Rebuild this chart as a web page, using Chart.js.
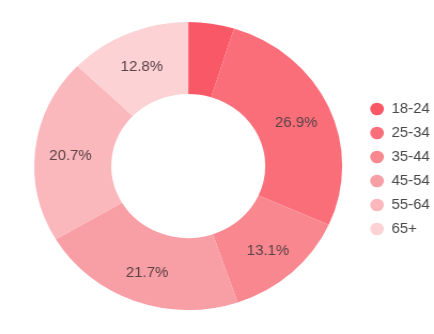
<!DOCTYPE html>
<html>
<head>
<meta charset="utf-8">
<script src="https://cdn.jsdelivr.net/npm/chart.js@4/dist/chart.umd.min.js"></script>
<style>
  html, body { margin: 0; padding: 0; background: #ffffff; }
  #frame { width: 434px; height: 334px; overflow: hidden; position: relative; }
  /* the chart is laid out slightly narrower and widened to fill the frame */
  #wrap { width: 406px; height: 334px; position: absolute; left: 0; top: 0;
          transform: scaleX(1.069); transform-origin: 0 0; }
</style>
</head>
<body>
<div id="frame"><div id="wrap"><canvas id="chart"></canvas></div></div>
<script>
// Age groups and their share of the audience (percent)
const ageGroups = ['18-24', '25-34', '35-44', '45-54', '55-64', '65+'];
const shares = [4.8, 26.9, 13.1, 21.7, 20.7, 12.8];
const sliceColors = ['#f95867', '#fa6e7a', '#f8878f', '#f89ea5', '#fab7bc', '#fcd2d5'];

const FONT = '"Liberation Sans", Arial, sans-serif';

// Writes the percentage inside each slice (skips the very thin ones)
const sliceLabels = {
  id: 'sliceLabels',
  afterDatasetsDraw(chart) {
    const ctx = chart.ctx;
    const meta = chart.getDatasetMeta(0);
    ctx.save();
    ctx.font = '14px ' + FONT;
    ctx.fillStyle = '#5a4245';
    ctx.textAlign = 'center';
    ctx.textBaseline = 'middle';
    meta.data.forEach((arc, i) => {
      const v = shares[i];
      if (v < 8) return;
      const p = arc.getProps(['x', 'y', 'startAngle', 'endAngle', 'innerRadius', 'outerRadius'], true);
      const mid = (p.startAngle + p.endAngle) / 2;
      const r = p.innerRadius + (p.outerRadius - p.innerRadius) * 0.54;
      ctx.fillText(v.toFixed(1) + '%', p.x + Math.cos(mid) * r, p.y + Math.sin(mid) * r + 3);
    });
    ctx.restore();
  }
};

// Trims the legend box so it sits a little closer to the right edge,
// and nudges it down a touch
const legendTrim = {
  id: 'legendTrim',
  beforeLayout(chart) {
    const lg = chart.legend;
    if (lg && !lg._trimmed) {
      const fit = lg.fit;
      lg.fit = function () {
        fit.call(this);
        this.width = Math.max(0, this.width - 6);
      };
      lg._trimmed = true;
    }
  },
  afterLayout(chart) {
    const lg = chart.legend;
    if (lg) {
      lg.top += 3;
      lg.bottom += 3;
    }
  }
};

new Chart(document.getElementById('chart'), {
  type: 'doughnut',
  data: {
    labels: ageGroups,
    datasets: [{
      data: shares,
      backgroundColor: sliceColors,
      borderWidth: 0
    }]
  },
  options: {
    responsive: true,
    maintainAspectRatio: false,
    animation: false,
    cutout: '50%',
    layout: { padding: { top: 22, bottom: 24, left: 16, right: 0 } },
    plugins: {
      tooltip: { enabled: false },
      legend: {
        position: 'right',
        labels: {
          usePointStyle: true,
          pointStyle: 'circle',
          boxWidth: 13,
          boxHeight: 9,
          padding: 10,
          color: '#474747',
          font: { size: 14, family: FONT }
        }
      }
    }
  },
  plugins: [legendTrim, sliceLabels]
});
</script>
</body>
</html>
